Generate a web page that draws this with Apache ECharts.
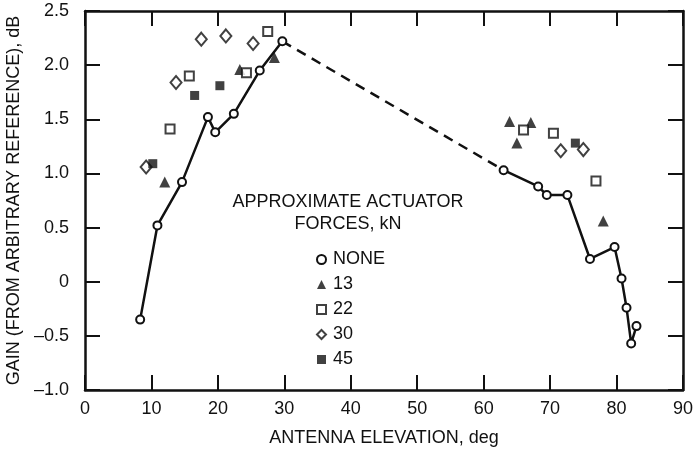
<!DOCTYPE html>
<html>
<head>
<meta charset="utf-8">
<script src="https://cdn.jsdelivr.net/npm/echarts@6/dist/echarts.min.js"></script>
<style>
  html, body { margin: 0; padding: 0; background: #fff; }
  #chart { width: 699px; height: 451px; }
</style>
</head>
<body>
<div id="chart"></div>
<script>
// gain vs. antenna elevation
const xTickLabels = ['0', '10', '20', '30', '40', '50', '60', '70', '80', '90'];
const yTickLabels = ['\u20131.0', '\u20130.5', '0', '0.5', '1.0', '1.5', '2.0', '2.5'];

const noneLeftX = [8.3, 10.9, 14.6, 18.5, 19.6, 22.4, 26.3, 29.7];
const noneLeftY = [-0.35, 0.52, 0.92, 1.52, 1.38, 1.55, 1.95, 2.22];
const noneRightX = [63.0, 68.2, 69.5, 72.6, 76.0, 79.7, 80.75, 81.5, 82.2, 83.0];
const noneRightY = [1.03, 0.88, 0.80, 0.80, 0.21, 0.32, 0.03, -0.24, -0.57, -0.41];

const f13X = [12.0, 23.3, 28.5, 63.9, 65.0, 67.1, 78.0];
const f13Y = [0.92, 1.96, 2.07, 1.48, 1.28, 1.47, 0.56];
const f22X = [12.8, 15.7, 24.3, 27.5, 66.0, 70.5, 76.9];
const f22Y = [1.41, 1.90, 1.93, 2.31, 1.40, 1.37, 0.93];
const f30X = [9.2, 13.7, 17.5, 21.2, 25.3, 71.6, 75.0];
const f30Y = [1.06, 1.84, 2.24, 2.27, 2.20, 1.21, 1.22];
const f45X = [10.2, 16.5, 20.3, 73.8];
const f45Y = [1.09, 1.72, 1.81, 1.28];

const pairs = (xs, ys) => xs.map((x, i) => [x, ys[i]]);

const font = '"Liberation Sans", Arial, sans-serif';
const ink = '#111';
const fs = 18;

const myChart = echarts.init(document.getElementById('chart'));

const hollow = { color: '#fff', borderColor: ink, borderWidth: 2 };
const solid = { color: ink };

function frameAxis(extra, range) {
  return Object.assign({
    type: 'value',
    min: range[0], max: range[1], interval: range[2],
    axisLine: { show: true, onZero: false, lineStyle: { color: ink, width: 2.5 } },
    axisTick: { show: true, inside: true, length: 15, lineStyle: { color: ink, width: 2 } },
    splitLine: { show: false },
  }, extra);
}

const plotBox = { left: 85, right: 16, top: 11, bottom: 61, outerBoundsMode: 'none', containLabel: false };

const option = {
  backgroundColor: '#fff',
  animation: false,
  textStyle: { fontFamily: font },
  // second grid sits on the first one and carries the top/right frame ticks
  grid: [plotBox, Object.assign({}, plotBox)],
  xAxis: [
    frameAxis({
      gridIndex: 0,
      position: 'bottom',
      name: 'ANTENNA ELEVATION, deg',
      nameLocation: 'middle',
      nameGap: 39,
      nameTextStyle: { color: ink, fontSize: fs, fontFamily: font },
      axisLabel: {
        color: ink, fontSize: fs, fontFamily: font, margin: 10,
        formatter: (v) => xTickLabels[Math.round(v / 10)],
      },
    }, [0, 90, 10]),
    frameAxis({ gridIndex: 1, position: 'top', axisLabel: { show: false } }, [0, 90, 10]),
  ],
  yAxis: [
    frameAxis({
      gridIndex: 0,
      position: 'left',
      name: 'GAIN (FROM ARBITRARY REFERENCE), dB',
      nameLocation: 'middle',
      nameGap: 58,
      nameTextStyle: { color: ink, fontSize: fs, fontFamily: font },
      axisLabel: {
        color: ink, fontSize: fs, fontFamily: font, margin: 16,
        formatter: (v) => yTickLabels[Math.round((v + 1) / 0.5)],
      },
    }, [-1, 2.5, 0.5]),
    frameAxis({ gridIndex: 1, position: 'right', axisLabel: { show: false } }, [-1, 2.5, 0.5]),
  ],
  legend: {
    orient: 'vertical',
    left: 311,
    top: 242,
    itemWidth: 9,
    itemHeight: 9,
    itemGap: 0,
    textStyle: { color: ink, fontSize: fs, fontFamily: font, lineHeight: 25, padding: [0, 0, 0, 2] },
    data: [
      { name: 'NONE', icon: 'circle', itemStyle: hollow },
      { name: '13', icon: 'triangle', itemStyle: solid },
      { name: '22', icon: 'rect', itemStyle: hollow },
      { name: '30', icon: 'diamond', itemStyle: hollow },
      { name: '45', icon: 'rect', itemStyle: solid },
    ],
  },
  graphic: [
    {
      type: 'text', x: 348, y: 191,
      style: {
        text: 'APPROXIMATE ACTUATOR\nFORCES, kN',
        align: 'center',
        fill: ink, font: fs + 'px ' + font, lineHeight: 22,
      },
    },
  ],
  series: [
    {
      // dashed bridge between the two measured stretches
      name: 'dash',
      type: 'line',
      xAxisIndex: 1,
      yAxisIndex: 1,
      data: [[noneLeftX[noneLeftX.length - 1], noneLeftY[noneLeftY.length - 1]], [noneRightX[0], noneRightY[0]]],
      symbol: 'none',
      lineStyle: { color: ink, width: 2.5, type: [10, 7] },
      z: 1,
    },
    {
      name: 'NONE',
      type: 'line',
      data: pairs(noneLeftX, noneLeftY),
      symbol: 'circle', symbolSize: 8,
      itemStyle: hollow,
      lineStyle: { color: ink, width: 2.5 },
      z: 2,
    },
    {
      name: 'NONE',
      type: 'line',
      data: pairs(noneRightX, noneRightY),
      symbol: 'circle', symbolSize: 8,
      itemStyle: hollow,
      lineStyle: { color: ink, width: 2.5 },
      z: 2,
    },
    { name: '13', type: 'scatter', data: pairs(f13X, f13Y), symbol: 'triangle', symbolSize: 11, itemStyle: solid, z: 3 },
    { name: '22', type: 'scatter', data: pairs(f22X, f22Y), symbol: 'rect', symbolSize: 9, itemStyle: hollow, z: 3 },
    { name: '30', type: 'scatter', data: pairs(f30X, f30Y), symbol: 'diamond', symbolSize: [11, 13], itemStyle: hollow, z: 3 },
    { name: '45', type: 'scatter', data: pairs(f45X, f45Y), symbol: 'rect', symbolSize: 9, itemStyle: solid, z: 3 },
  ],
};

myChart.setOption(option, true);
window.addEventListener('resize', () => {
  myChart.resize();
});
</script>
</body>
</html>
